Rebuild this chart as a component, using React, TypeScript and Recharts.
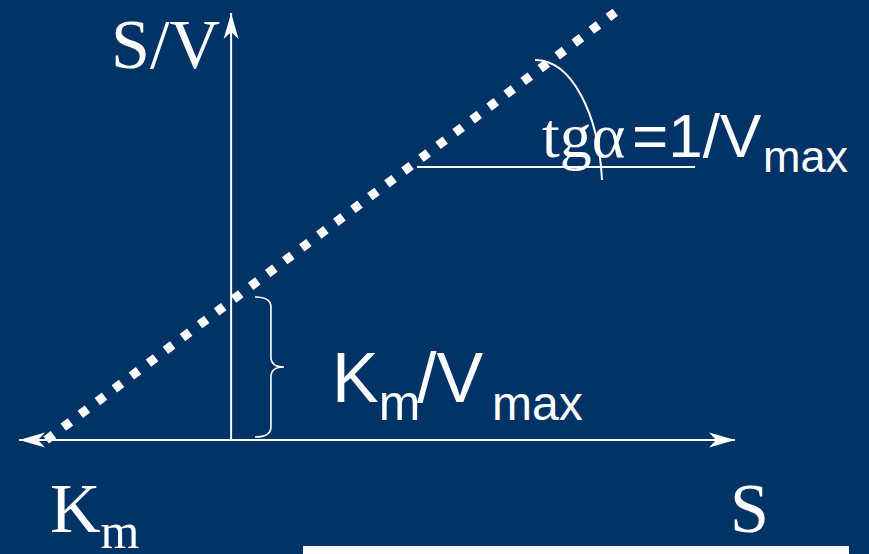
import React from 'react';
import {
  ComposedChart,
  Line,
  XAxis,
  YAxis,
  ReferenceLine,
  ReferenceArea,
  ReferenceDot,
} from 'recharts';

// Hanes–Woolf plot: S/V against S, with Km = 2 and Vmax = 2
const KM = 2;
const VMAX = 2;

// The straight line, from its x-intercept (−Km) up to the top of the plot
const lineS = [-KM, 4.155];
const lineSV = [0, 3.077];

// Plot window (S on x, S/V on y)
const domainS = [-2.5, 6.9];
const domainSV = [-0.82, 3.165];

// Coordinate axes with arrows
const sAxisSpan = [-2.294, 5.451];
const svAxisTop = 3.072;

// Horizontal leg of the slope angle and the arc marking α
const slopeLevel = 1.964;
const slopeSpan = [2.011, 5.018];
const arcS = [3.287, 4.012];
const arcSV = [2.733, 1.87];

// Brace marking the intercept Km/Vmax on the S/V axis
const braceS = [0.258, 0.572];
const braceSV = [0.022, 1.029];

// Label anchors [S, S/V]
const svTitlePos = [-0.12, 2.676];
const kmLabelPos = [-1.959, -0.662];
const sTitlePos = [5.396, -0.662];
const slopeLabelPos = [3.363, 2.036];
const interceptLabelPos = [1.091, 0.273];

const BG = '#013366';
const FG = '#ffffff';
const SERIF = '"Liberation Serif", "Times New Roman", serif';
const SANS = '"Liberation Sans", Arial, sans-serif';

const lineData = lineS.map((s, i) => ({ s, sv: lineSV[i] }));

const arrowHead = (tx: number, ty: number, fx: number, fy: number) => {
  const len = Math.hypot(tx - fx, ty - fy) || 1;
  const dx = (tx - fx) / len;
  const dy = (ty - fy) / len;
  const nx = -dy;
  const ny = dx;
  const L = 26;
  const W = 7.5;
  const N = 7;
  const pts = [
    [tx, ty],
    [tx - L * dx + W * nx, ty - L * dy + W * ny],
    [tx - (L - N) * dx, ty - (L - N) * dy],
    [tx - L * dx - W * nx, ty - L * dy - W * ny],
  ];
  return <polygon points={pts.map((p) => p.join(',')).join(' ')} fill={FG} />;
};

const axisShape = (startArrow: boolean, endArrow: boolean) => (p: any) => (
  <g>
    <line x1={p.x1} y1={p.y1} x2={p.x2} y2={p.y2} stroke={FG} strokeWidth={2} />
    {startArrow && arrowHead(p.x1, p.y1, p.x2, p.y2)}
    {endArrow && arrowHead(p.x2, p.y2, p.x1, p.y1)}
  </g>
);

const plainSegment = (p: any) => (
  <line x1={p.x1} y1={p.y1} x2={p.x2} y2={p.y2} stroke={FG} strokeWidth={2} />
);

const braceShape = (p: any) => {
  const { x, y, width: w, height: h } = p;
  const xm = x + 0.55 * w;
  const mid = y + h / 2;
  const r = 10;
  const d = [
    `M${x},${y}`,
    `Q${xm},${y} ${xm},${y + r}`,
    `L${xm},${mid - r}`,
    `Q${xm},${mid} ${x + w},${mid}`,
    `Q${xm},${mid} ${xm},${mid + r}`,
    `L${xm},${y + h - r}`,
    `Q${xm},${y + h} ${x},${y + h}`,
  ].join(' ');
  return <path d={d} fill="none" stroke={FG} strokeWidth={1.6} />;
};

const arcShape = (p: any) => {
  const { x, y, width: w, height: h } = p;
  const d = `M${x},${y} C${x + 0.55 * w},${y} ${x + 0.95 * w},${y + 0.45 * h} ${x + w},${y + h}`;
  return <path d={d} fill="none" stroke={FG} strokeWidth={2} />;
};

const labelAt = (render: (cx: number, cy: number) => React.ReactElement) => (p: any) =>
  render(p.cx, p.cy);

export default function App() {
  return (
    <div style={{ position: 'absolute', left: 0, top: 0, width: 869, height: 554, background: BG }}>
      <ComposedChart
        width={869}
        height={554}
        margin={{ top: 0, right: 0, bottom: 0, left: 0 }}
        style={{ background: BG }}
      >
        <XAxis
          type="number"
          dataKey="s"
          domain={domainS}
          allowDataOverflow
          hide
        />
        <YAxis type="number" domain={domainSV} allowDataOverflow hide />

        <ReferenceLine
          segment={[
            { x: sAxisSpan[0], y: 0 },
            { x: sAxisSpan[1], y: 0 },
          ]}
          shape={axisShape(true, true)}
        />
        <ReferenceLine
          segment={[
            { x: 0, y: 0 },
            { x: 0, y: svAxisTop },
          ]}
          shape={axisShape(false, true)}
        />
        <ReferenceLine
          segment={[
            { x: slopeSpan[0], y: slopeLevel },
            { x: slopeSpan[1], y: slopeLevel },
          ]}
          shape={plainSegment}
        />
        <ReferenceArea
          x1={arcS[0]}
          x2={arcS[1]}
          y1={arcSV[1]}
          y2={arcSV[0]}
          shape={arcShape}
        />
        <ReferenceArea
          x1={braceS[0]}
          x2={braceS[1]}
          y1={braceSV[0]}
          y2={braceSV[1]}
          shape={braceShape}
        />

        <Line
          data={lineData}
          dataKey="sv"
          type="linear"
          stroke={FG}
          strokeWidth={9}
          strokeDasharray="9 12.31"
          strokeLinecap="butt"
          dot={false}
          activeDot={false}
          isAnimationActive={false}
        />

        <ReferenceDot
          x={svTitlePos[0]}
          y={svTitlePos[1]}
          r={0}
          shape={labelAt((cx, cy) => (
            <text x={cx} y={cy} textAnchor="end" fill={FG} fontFamily={SERIF} fontSize={70}>
              S/V
            </text>
          ))}
        />
        <ReferenceDot
          x={kmLabelPos[0]}
          y={kmLabelPos[1]}
          r={0}
          shape={labelAt((cx, cy) => (
            <text x={cx} y={cy} fill={FG} fontFamily={SERIF} fontSize={70}>
              K
              <tspan fontSize={50} dy={16}>
                m
              </tspan>
            </text>
          ))}
        />
        <ReferenceDot
          x={sTitlePos[0]}
          y={sTitlePos[1]}
          r={0}
          shape={labelAt((cx, cy) => (
            <text x={cx} y={cy} fill={FG} fontFamily={SERIF} fontSize={70}>
              S
            </text>
          ))}
        />
        <ReferenceDot
          x={slopeLabelPos[0]}
          y={slopeLabelPos[1]}
          r={0}
          shape={labelAt((cx, cy) => (
            <text x={cx} y={cy} fill={FG}>
              <tspan fontFamily={SERIF} fontSize={64}>
                tgα
              </tspan>
              <tspan x={cx + 90} fontFamily={SANS} fontSize={62}>
                =1/V
              </tspan>
              <tspan x={cx + 221} dy={15} fontFamily={SANS} fontSize={45}>
                max
              </tspan>
            </text>
          ))}
        />
        <ReferenceDot
          x={interceptLabelPos[0]}
          y={interceptLabelPos[1]}
          r={0}
          shape={labelAt((cx, cy) => (
            <text x={cx} y={cy} fill={FG} fontFamily={SANS} fontSize={70}>
              K
              <tspan fontSize={50} dy={18}>
                m
              </tspan>
              <tspan x={cx + 85} dy={-18} fontSize={70}>
                /V
              </tspan>
              <tspan x={cx + 160} dy={18} fontSize={48}>
                max
              </tspan>
            </text>
          ))}
        />
      </ComposedChart>
      <div
        style={{
          position: 'absolute',
          left: 303,
          top: 546,
          width: 546,
          height: 8,
          background: FG,
        }}
      />
    </div>
  );
}
